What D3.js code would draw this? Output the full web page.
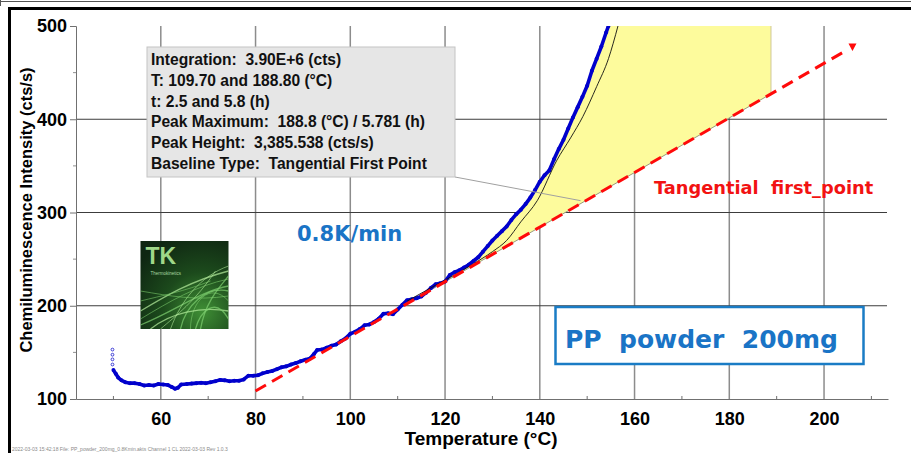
<!DOCTYPE html>
<html><head><meta charset="utf-8">
<script src="https://cdn.jsdelivr.net/npm/d3@7"></script>
<style>body{margin:0;background:#fff;} svg{display:block;}</style>
</head><body>
<svg id="chart" width="911" height="453"></svg>
<script>
// ---------- data ----------
const xTicks = [60, 80, 100, 120, 140, 160, 180, 200];
const xMinorTicks = [50, 70, 90, 110, 130, 150, 170, 190, 210];
const yTicks = [100, 200, 300, 400, 500];
const yMinorTicks = [150, 250, 350, 450];
const yGrid = [200, 300, 400];
const startPoints = [[49.8,153],[49.8,147.5],[49.8,142.5],[49.8,137]];
const signal = [
 [50.0,131],[50.5,127],[51,123],[51.7,120],[52.5,118],[53.5,117],[54.5,117],[55.5,116],[56.5,114.5],[57.5,115],
 [58.5,114.5],[59.5,116],[60.5,115.5],[61.5,115],[62.3,113],[63,111],[63.6,112],[64.3,115.5],[65.5,116],[66.5,116.5],
 [67.5,117],[68.5,117.5],[69.5,117],[70.5,118],[71.5,119],[72.5,120.5],[73.5,120],[74.5,119],[75.5,119.5],[76.5,119.5],
 [77.5,121],[78.5,125],[79.5,125],[80.5,125.5],[81.5,127.5],[82.5,129],[83.5,130],[84.5,132],[85.5,134],[86.5,135],
 [87.5,137],[88.5,138.5],[89.5,140.5],[90.5,142],[91.5,143.5],[92.3,148],[93,152.5],[94,153],[95,155],[96,157],
 [97,158.5],[98,162],[99,165],[100,170],[101,172],[102,175],[103,179],[104,180],[105,182.5],[106,186],
 [107,191.5],[108,192],[109,191],[110,196],[111,201],[112,206],[113,207],[114,208],[115,210],[116,214],
 [117,219],[118,223],[119,224],[120,226],[121,233],[122,236],[123,238],[124,241],[125,244],[126,248],
 [127,252],[128,258],[129,264],[130,270],[131,275],[132,280],[133,285],[134,292],[135,298],[136,303],
 [137,309],[138,316],[139,324],[140,333],[141,340],[142,345],[143,357],[144,368],[145,378],[146,390],
 [147,402],[148,413],[149,424],[150,436],[151,452],[152,465],[153,478],[154,493],[154.5,500]
];
const fitCurve = [[112,205],[118,222],[122,233],[126,245],[130,258],[133,270],[136,290],[139.5,313],[143.6,356],[146.5,380],[149.1,403],[152,435],[154.5,465],[156.5,500]];
const baselinePts = [[80,108.6],[206,477.6]];
const peakRange = [109.7, 188.8];
const leaderTarget = 148.6;
const infoLines = [
 "Integration:  3.90E+6 (cts)",
 "T: 109.70 and 188.80 (°C)",
 "t: 2.5 and 5.8 (h)",
 "Peak Maximum:  188.8 (°C) / 5.781 (h)",
 "Peak Height:  3,385.538 (cts/s)",
 "Baseline Type:  Tangential First Point"
];
const xTitle = "Temperature (°C)";
const yTitle = "Chemiluminescence Intensity (cts/s)";
const rateLabel = "0.8K/min";
const sampleLabel = "PP  powder  200mg";
const baselineLabel = "Tangential  first_point";
const footerText = "2022-03-03  15:42:18   File: PP_powder_200mg_0.8Kmin.akts   Channel 1   CL   2022-03-03  Rev 1.0.3";

// ---------- setup ----------
const svg = d3.select("#chart");
const x = d3.scaleLinear().domain([42.1, 213.5]).range([76, 888]);
const y = d3.scaleLinear().domain([100, 500]).range([399, 26]);
const AX = "'Liberation Sans', Arial, sans-serif";
const DJ = "'DejaVu Sans', Verdana, sans-serif";

const defs = svg.append("defs");
defs.append("clipPath").attr("id","plotClip").append("rect")
  .attr("x", x.range()[0]).attr("y", y.range()[1])
  .attr("width", x.range()[1]-x.range()[0]).attr("height", y.range()[0]-y.range()[1]);

// frame
svg.append("line").attr("x1",0).attr("x2",911).attr("y1",1.5).attr("y2",1.5).attr("stroke","#555").attr("stroke-width",1);
svg.append("line").attr("x1",0.5).attr("x2",0.5).attr("y1",0).attr("y2",6).attr("stroke","#555");
svg.append("line").attr("x1",8).attr("x2",911).attr("y1",8.5).attr("y2",8.5).attr("stroke","#000").attr("stroke-width",3);
svg.append("line").attr("x1",9.5).attr("x2",9.5).attr("y1",7).attr("y2",453).attr("stroke","#000").attr("stroke-width",3);

// grid
svg.append("g").selectAll("line").data(xTicks).join("line")
  .attr("x1",d=>x(d)).attr("x2",d=>x(d)).attr("y1",y(500)).attr("y2",y(100))
  .attr("stroke","#8c8c8c").attr("stroke-width",1.5);
svg.append("g").selectAll("line").data(yGrid).join("line")
  .attr("x1",x.range()[0]).attr("x2",887).attr("y1",d=>y(d)).attr("y2",d=>y(d))
  .attr("stroke","#3c3c3c").attr("stroke-width",1);

// axes
const gx = svg.append("g").attr("transform",`translate(0,${y(100)})`)
  .call(d3.axisBottom(x).tickValues(xTicks).tickSize(0).tickPadding(13).tickFormat(d3.format("d")));
gx.select(".domain").attr("stroke","#707070");
gx.selectAll("text").attr("font-family",AX).attr("font-weight","bold").attr("font-size",18).attr("fill","#000");
svg.append("g").selectAll("line").data(xMinorTicks).join("line")
  .attr("x1",d=>x(d)).attr("x2",d=>x(d)).attr("y1",y(100)-3).attr("y2",y(100)).attr("stroke","#707070");

const gy = svg.append("g").attr("transform",`translate(${x.range()[0]},0)`)
  .call(d3.axisLeft(y).tickValues(yTicks).tickSize(6).tickPadding(3).tickFormat(d3.format("d")));
gy.select(".domain").attr("stroke","#707070");
gy.selectAll(".tick line").attr("stroke","#707070");
gy.selectAll("text").attr("font-family",AX).attr("font-weight","bold").attr("font-size",18).attr("fill","#000");
svg.append("g").selectAll("line").data(yMinorTicks).join("line")
  .attr("x1",x.range()[0]-3).attr("x2",x.range()[0]).attr("y1",d=>y(d)).attr("y2",d=>y(d)).attr("stroke","#909090");

// titles
svg.append("text").attr("x",481).attr("y",445).attr("text-anchor","middle")
  .attr("font-family",AX).attr("font-weight","bold").attr("font-size",19).text(xTitle);
svg.append("text").attr("transform","translate(32,210) rotate(-90)").attr("text-anchor","middle")
  .attr("font-family",AX).attr("font-weight","bold").attr("font-size",16.5).text(yTitle);

// baseline helper (straight line through the two baseline points)
const baseAt = t => baselinePts[0][1] + (t-baselinePts[0][0])*(baselinePts[1][1]-baselinePts[0][1])/(baselinePts[1][0]-baselinePts[0][0]);
const sigAt = t => {
  for (let i=1;i<signal.length;i++){ if (signal[i][0]>=t){ const a=signal[i-1], b=signal[i]; return a[1]+(t-a[0])*(b[1]-a[1])/(b[0]-a[0]); } }
  return 500;
};

const plot = svg.append("g").attr("clip-path","url(#plotClip)");

// peak area
const areaData = [[peakRange[0], sigAt(peakRange[0])]]
  .concat(signal.filter(d=>d[0]>peakRange[0] && d[0]<=peakRange[1]))
  .concat([[peakRange[1], 500]]);
plot.append("path").datum(areaData)
  .attr("d", d3.area().x(d=>x(d[0])).y0(d=>y(baseAt(d[0]))).y1(d=>y(Math.min(d[1],500))))
  .attr("fill","#fdfb9c").attr("stroke","none");
plot.append("path").datum([[154.5,500],[peakRange[1],500]])
  .attr("d", d3.area().x(d=>x(d[0])).y0(d=>y(baseAt(d[0]))).y1(d=>y(d[1]+50)))
  .attr("fill","#fdfb9c");
plot.append("line").attr("x1",x(peakRange[1])).attr("x2",x(peakRange[1]))
  .attr("y1",y(baseAt(peakRange[1]))).attr("y2",y(500)).attr("stroke","#cfc79a").attr("stroke-width",1);
plot.append("line").attr("x1",x(peakRange[0])).attr("x2",x(peakRange[1]))
  .attr("y1",y(baseAt(peakRange[0]))).attr("y2",y(baseAt(peakRange[1]))).attr("stroke","#9a9a80").attr("stroke-width",1);

// leader line from info box
svg.append("line").attr("x1",455).attr("y1",177).attr("x2",x(leaderTarget)).attr("y2",y(baseAt(leaderTarget))-3)
  .attr("stroke","#a0a0a0").attr("stroke-width",1);

// blue signal
const line = d3.line().x(d=>x(d[0])).y(d=>y(d[1]));
plot.append("path").datum(signal).attr("d",line).attr("fill","none")
  .attr("stroke","#0000cc").attr("stroke-width",3.6).attr("stroke-linejoin","round");
plot.append("g").selectAll("circle").data(signal).join("circle")
  .attr("cx",d=>x(d[0])).attr("cy",d=>y(d[1])).attr("r",2).attr("fill","#0000cc");
plot.append("g").selectAll("circle").data(startPoints).join("circle")
  .attr("cx",d=>x(d[0])).attr("cy",d=>y(d[1])).attr("r",1.4).attr("fill","#fff").attr("stroke","#2a2ad0").attr("stroke-width",0.9);

// thin black fit curve
plot.append("path").datum(fitCurve).attr("d", d3.line().x(d=>x(d[0])).y(d=>y(d[1])).curve(d3.curveMonotoneX))
  .attr("fill","none").attr("stroke","#111").attr("stroke-width",0.9);

// red dashed tangent baseline
const tEnd = baselinePts[1][0];
svg.append("line").attr("x1",x(baselinePts[0][0])).attr("y1",y(baselinePts[0][1]))
  .attr("x2",x(tEnd-1)).attr("y2",y(baseAt(tEnd-1)))
  .attr("stroke","#ff0a0a").attr("stroke-width",3).attr("stroke-dasharray","12,7");
const ax = x(tEnd), ay = y(baselinePts[1][1]);
svg.append("path").attr("d",`M${ax-4},${ay-3.5}L${ax+4},${ay-3.5}L${ax},${ay+4}Z`).attr("fill","#ff0a0a");

// info box
svg.append("rect").attr("x",147).attr("y",47).attr("width",308).attr("height",130)
  .attr("fill","#e6e6e6").attr("stroke","#c4c4c4").attr("stroke-width",1);
svg.append("g").selectAll("text").data(infoLines).join("text")
  .attr("x",151).attr("y",(d,i)=>65+i*20.8).attr("font-family",AX).attr("font-weight","bold")
  .attr("font-size",15.6).attr("fill","#111").style("white-space","pre").text(d=>d);

// annotations
svg.append("text").attr("x",297).attr("y",241).attr("font-family",DJ).attr("font-weight","bold")
  .attr("font-size",21).attr("fill","#1a74c6").text(rateLabel);
svg.append("text").attr("x",654).attr("y",194).attr("font-family",DJ).attr("font-weight","bold")
  .attr("font-size",17.8).attr("fill","#f21212").style("white-space","pre").text(baselineLabel);
svg.append("rect").attr("x",555.5).attr("y",307).attr("width",308).attr("height",57)
  .attr("fill","#fff").attr("stroke","#1a7cc5").attr("stroke-width",2.5);
svg.append("text").attr("x",565).attr("y",348).attr("font-family",DJ).attr("font-weight","bold")
  .attr("font-size",25).attr("fill","#1a74c6").style("white-space","pre").text(sampleLabel);

// TK logo
const lg = svg.append("g").attr("transform","translate(140.5,241)");
const rg = defs.append("radialGradient").attr("id","lgBg").attr("cx","0.7").attr("cy","0.8").attr("r","0.9");
rg.append("stop").attr("offset","0").attr("stop-color","#3f8f35");
rg.append("stop").attr("offset","0.5").attr("stop-color","#1c4a1c");
rg.append("stop").attr("offset","1").attr("stop-color","#0f2612");
defs.append("clipPath").attr("id","lgClip").append("rect").attr("width",88).attr("height",88);
lg.append("rect").attr("width",88).attr("height",88).attr("fill","url(#lgBg)");
const sw = lg.append("g").attr("clip-path","url(#lgClip)").attr("fill","none");
const swirls = [
 "M0,70 C25,55 50,40 88,30","M0,78 C30,60 55,45 88,38","M0,84 C35,70 60,50 88,45",
 "M30,88 C40,60 60,35 88,25","M40,88 C45,65 65,45 88,50","M50,88 C50,60 70,40 88,60",
 "M10,88 C30,72 60,65 88,70","M0,60 C20,55 45,50 70,40","M55,88 C60,70 75,55 88,78",
 "M20,88 C35,75 55,60 75,30","M60,88 C65,60 80,45 88,35","M0,50 C30,55 55,60 88,55"
];
sw.selectAll("path").data(swirls).join("path").attr("d",d=>d)
  .attr("stroke",(d,i)=> i%3===0 ? "#b8f0a0" : "#7fd070").attr("stroke-width",(d,i)=> i%2 ? 0.8 : 1.3)
  .attr("opacity",0.7);
lg.append("text").attr("x",5).attr("y",23).attr("font-family",AX).attr("font-weight","bold")
  .attr("font-size",23).attr("fill","#9fd889").text("TK");
lg.append("text").attr("x",10).attr("y",34).attr("font-family",AX)
  .attr("font-size",4.5).attr("fill","#a8d8a0").text("Thermokinetics");

// footer
svg.append("text").attr("x",12).attr("y",451).attr("font-family",AX).attr("font-size",5)
  .attr("fill","#8a8a8a").text(footerText);
</script>
</body></html>
